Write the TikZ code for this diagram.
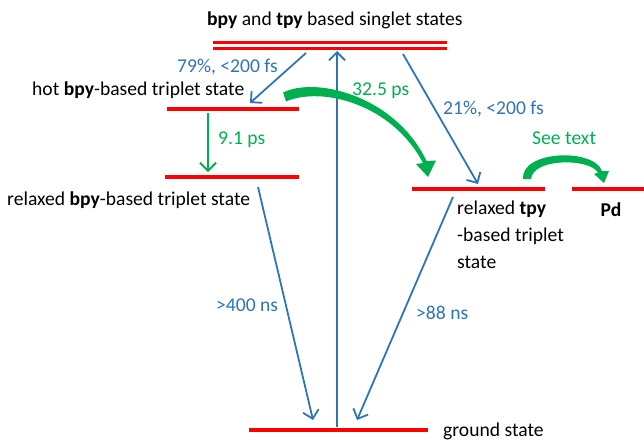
\documentclass[tikz,border=0pt]{standalone}
\usepackage{fontspec}
\setmainfont{Carlito}
\usetikzlibrary{arrows.meta}
\definecolor{lvred}{RGB}{255,0,0}
\definecolor{trblue}{RGB}{46,117,182}
\definecolor{trgreen}{RGB}{0,176,80}
\begin{document}
\begin{tikzpicture}[x=1pt,y=-1pt,
  level/.style={draw=lvred, line width=3.6pt},
  dlevel/.style={draw=lvred, line width=3pt},
  trans/.style={draw=trblue, line width=1.8pt, -{Straight Barb[length=8pt,width=16pt,line width=1.8pt]}},
  relax/.style={draw=trgreen, line width=1.8pt, -{Straight Barb[length=8pt,width=16pt,line width=1.8pt]}},
  bigarrow/.style={fill=trgreen},
  lbl/.style={font=\fontsize{19.6}{27}\selectfont, inner sep=0pt, anchor=base west},
  blbl/.style={lbl, text=trblue},
  glbl/.style={lbl, text=trgreen}]
\useasboundingbox (0,0) rectangle (644,440);
% energy levels
\coordinate (s1a) at (213,42);   \coordinate (s1b) at (447,42);
\coordinate (s2a) at (213,48.5); \coordinate (s2b) at (447,48.5);
\coordinate (ha) at (167,109);   \coordinate (hb) at (299,109);
\coordinate (ra) at (165,177);   \coordinate (rb) at (299,177);
\coordinate (ta) at (412,189);   \coordinate (tb) at (545,189);
\coordinate (pa) at (572,189);   \coordinate (pb) at (644,189);
\coordinate (ga) at (249,430);   \coordinate (gb) at (428,430);
\draw[dlevel] (s1a) -- (s1b);
\draw[dlevel] (s2a) -- (s2b);
\draw[level] (ha) -- (hb);
\draw[level] (ra) -- (rb);
\draw[level] (ta) -- (tb);
\draw[level] (pa) -- (pb);
\draw[level] (ga) -- (gb);
% transition end points
\coordinate (upS) at (337,427); \coordinate (upE) at (337,51);
\coordinate (aS) at (306,53);   \coordinate (aE) at (250,103);
\coordinate (bS) at (403,54);   \coordinate (bE) at (478,184);
\coordinate (cS) at (258,187);  \coordinate (cE) at (313,420);
\coordinate (dS) at (453,197);  \coordinate (dE) at (357,420);
\coordinate (eS) at (208,113);  \coordinate (eE) at (208,172);
\draw[trans] (upS) -- (upE);
\draw[trans] (aS) -- (aE);
\draw[trans] (bS) -- (bE);
\draw[trans] (cS) -- (cE);
\draw[trans] (dS) -- (dE);
\draw[relax] (eS) -- (eE);
% big green curved arrows
\fill[bigarrow] (283,92.5) .. controls (318,75.5) and (397,98) .. (426.5,161)
  -- (436,160.5) -- (428,177) -- (416,164) -- (423,163)
  .. controls (392,104) and (322,86) .. (286,101.5) -- cycle;
\fill[bigarrow] (523,179) .. controls (521,150) and (594,148) .. (602,171)
  -- (609,171) -- (604,183) -- (594,174) -- (598,172.5)
  .. controls (589,158) and (533,158) .. (531,179) -- cycle;
% labels
\node[lbl] (tS) at (207,25) {\textbf{bpy} and \textbf{tpy} based singlet states};
\node[blbl] (t79) at (177,72) {79\%, <200 fs};
\node[lbl] (thot) at (32,95) {hot \textbf{bpy}-based triplet state};
\node[glbl] (t325) at (352,95) {32.5 ps};
\node[blbl] (t21) at (443,114) {21\%, <200 fs};
\node[glbl] (t91) at (218,144) {9.1 ps};
\node[glbl] (tsee) at (532,144) {See text};
\node[lbl] (trb) at (7,205) {relaxed \textbf{bpy}-based triplet state};
\node[lbl] (trt) at (457,214) {\begin{tabular}[t]{@{}l@{}}relaxed \textbf{tpy}\\-based triplet\\state\end{tabular}};
\node[lbl, anchor=base] (tpd) at (611,216) {\textbf{Pd}};
\node[blbl] (t400) at (216,311) {>400 ns};
\node[blbl] (t88) at (416,319) {>88 ns};
\node[lbl] (tg) at (443,436) {ground state};
\end{tikzpicture}
\end{document}
